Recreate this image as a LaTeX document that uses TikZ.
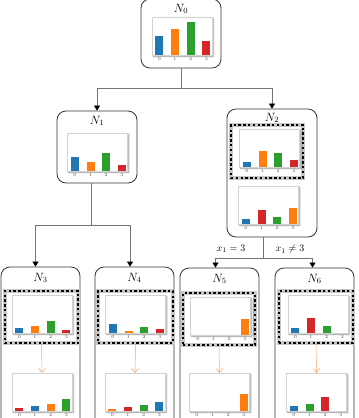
\documentclass[tikz,border=0pt]{standalone}
\usetikzlibrary{positioning, arrows.meta, shadows.blur}

\definecolor{tabblue}{HTML}{1F77B4}
\definecolor{taborange}{HTML}{FF7F0E}
\definecolor{tabgreen}{HTML}{2CA02C}
\definecolor{tabred}{HTML}{D62728}
\definecolor{flowcol}{HTML}{F4A36E}

% small bar chart: name, centre, list colour/height
\newcommand{\histo}[3]{%
    \node[chart] (#1) at (#2) {};
    \foreach \c/\h [count=\i from 0] in {#3} {
        \path[fill=\c] ([xshift={3.5pt+15.7pt*\i}]#1.south west) rectangle ++(8,-\h);
        \node[tick] (#1t\i) at ([xshift={7.5pt+15.7pt*\i}, yshift=-4pt]#1.south west) {\i};
    }
}

\begin{document}
\begin{tikzpicture}[x=1pt, y=-1pt,
        tnode/.style={draw=black!80, line width=0.8pt, rounded corners=9pt, minimum width=79pt, inner sep=0pt},
        sel/.style={draw=black, line width=2.4pt, dash pattern=on 2.4pt off 2.4pt, inner sep=0pt,
            preaction={draw=black!22, line width=4.2pt, solid}},
        chart/.style={draw=gray!35, line width=0.4pt, fill=white, minimum width=60pt, minimum height=38pt, inner sep=0pt,
            blur shadow={shadow xshift=1.2pt, shadow yshift=-1.2pt, shadow blur radius=1.6pt, shadow opacity=45}},
        tick/.style={font=\fontsize{4.5}{5}\selectfont, text=black!70, inner sep=0pt},
        lbl/.style={font=\large, inner sep=1pt},
        cond/.style={inner sep=1pt},
        link/.style={draw=black!55, line width=0.7pt, -{Triangle[width=6pt, length=5pt, color=black]}},
        flow/.style={draw=flowcol, line width=0.5pt, -{Straight Barb[width=7pt, length=4pt]}}]
    \useasboundingbox (0,0) rectangle (359,418);
    % Define tree nodes
    \node[tnode, minimum width=80pt, minimum height=69pt] (n0) at (181,33.5) {};
    \node[tnode, minimum width=80pt, minimum height=72pt] (n1) at (97,147) {};
    \node[tnode, minimum width=90pt, minimum height=128pt] (n2) at (272,173) {};
    \node[tnode, minimum height=170pt] (n3) at (40.5,352) {};
    \node[tnode, minimum height=170pt] (n4) at (134.5,352) {};
    \node[tnode, minimum height=170pt] (n5) at (219.5,353) {};
    \node[tnode, minimum height=170pt] (n6) at (314.5,353) {};
    % Selected distributions
    \node[sel, minimum width=72pt, minimum height=53pt] (d2) at (267,151.5) {};
    \node[sel, minimum width=73pt, minimum height=52pt] (d3) at (41.5,317) {};
    \node[sel, minimum width=75pt, minimum height=52pt] (d4) at (135.5,317) {};
    \node[sel, minimum width=72pt, minimum height=52pt] (d5) at (219,319) {};
    \node[sel, minimum width=74pt, minimum height=52pt] (d6) at (316,317) {};
    % Draw bar charts
    \histo{c0}{182,36}{tabblue/19, taborange/26, tabgreen/33, tabred/14}
    \histo{c1}{97.5,152}{tabblue/14, taborange/9, tabgreen/18, tabred/6}
    \histo{c2a}{269.5,148}{tabblue/5, taborange/16, tabgreen/14, tabred/7}
    \histo{c2b}{268.5,205}{tabblue/5, tabred/14, tabgreen/7, taborange/16}
    \histo{c3a}{42,314}{tabblue/5, taborange/7, tabgreen/12, tabred/3}
    \histo{c3b}{42,392}{tabred/3, tabblue/5, taborange/7, tabgreen/12}
    \histo{c4a}{135.5,314}{tabblue/9, taborange/2, tabgreen/6, tabred/4}
    \histo{c4b}{135,392}{taborange/2, tabred/4, tabgreen/6, tabblue/9}
    \histo{c5a}{220.5,316}{none/0, none/0, none/0, taborange/16}
    \histo{c5b}{219.5,392}{none/0, none/0, none/0, taborange/17}
    \histo{c6a}{318,314}{tabblue/5, tabred/15, tabgreen/7, none/0}
    \histo{c6b}{316.5,392}{tabblue/5, tabgreen/7, tabred/14, none/0}
    % Node labels
    \node[lbl, below=4pt of n0.north] (l0) {$N_0$};
    \node[lbl, below=4pt of n1.north] (l1) {$N_1$};
    \node[lbl, below=3pt of n2.north] (l2) {$N_2$};
    \node[lbl, below=5pt of n3.north] (l3) {$N_3$};
    \node[lbl, below=5pt of n4.north] (l4) {$N_4$};
    \node[lbl, below=5pt of n5.north] (l5) {$N_5$};
    \node[lbl, below=5pt of n6.north] (l6) {$N_6$};
    % Split conditions
    \node[cond] (e1) at (231,249) {$x_1 = 3$};
    \node[cond] (e2) at (290,249) {$x_1 \neq 3$};
    % Draw connectors
    \draw[link] (n0.south) -- ++(0,20) -| (n1.north);
    \draw[link] (n0.south) -- ++(0,20) -| (n2.north);
    \draw[link] ([xshift=-6pt]n1.south) -- ++(0,42) -| ([xshift=-5pt]n3.north);
    \draw[link] ([xshift=-6pt]n1.south) -- ++(0,42) -| ([xshift=-4.5pt]n4.north);
    \draw[link] ([xshift=-9pt]n2.south) -- ++(0,21) -| ([xshift=-4pt]n5.north);
    \draw[link] ([xshift=-9pt]n2.south) -- ++(0,21) -| ([xshift=-2pt]n6.north);
    \draw[flow] (d3.south) -- (c3b.north);
    \draw[flow] (d4.south) -- (c4b.north);
    \draw[flow] (d5.south) -- (c5b.north);
    \draw[flow] (d6.south) -- (c6b.north);
\end{tikzpicture}
\end{document}
